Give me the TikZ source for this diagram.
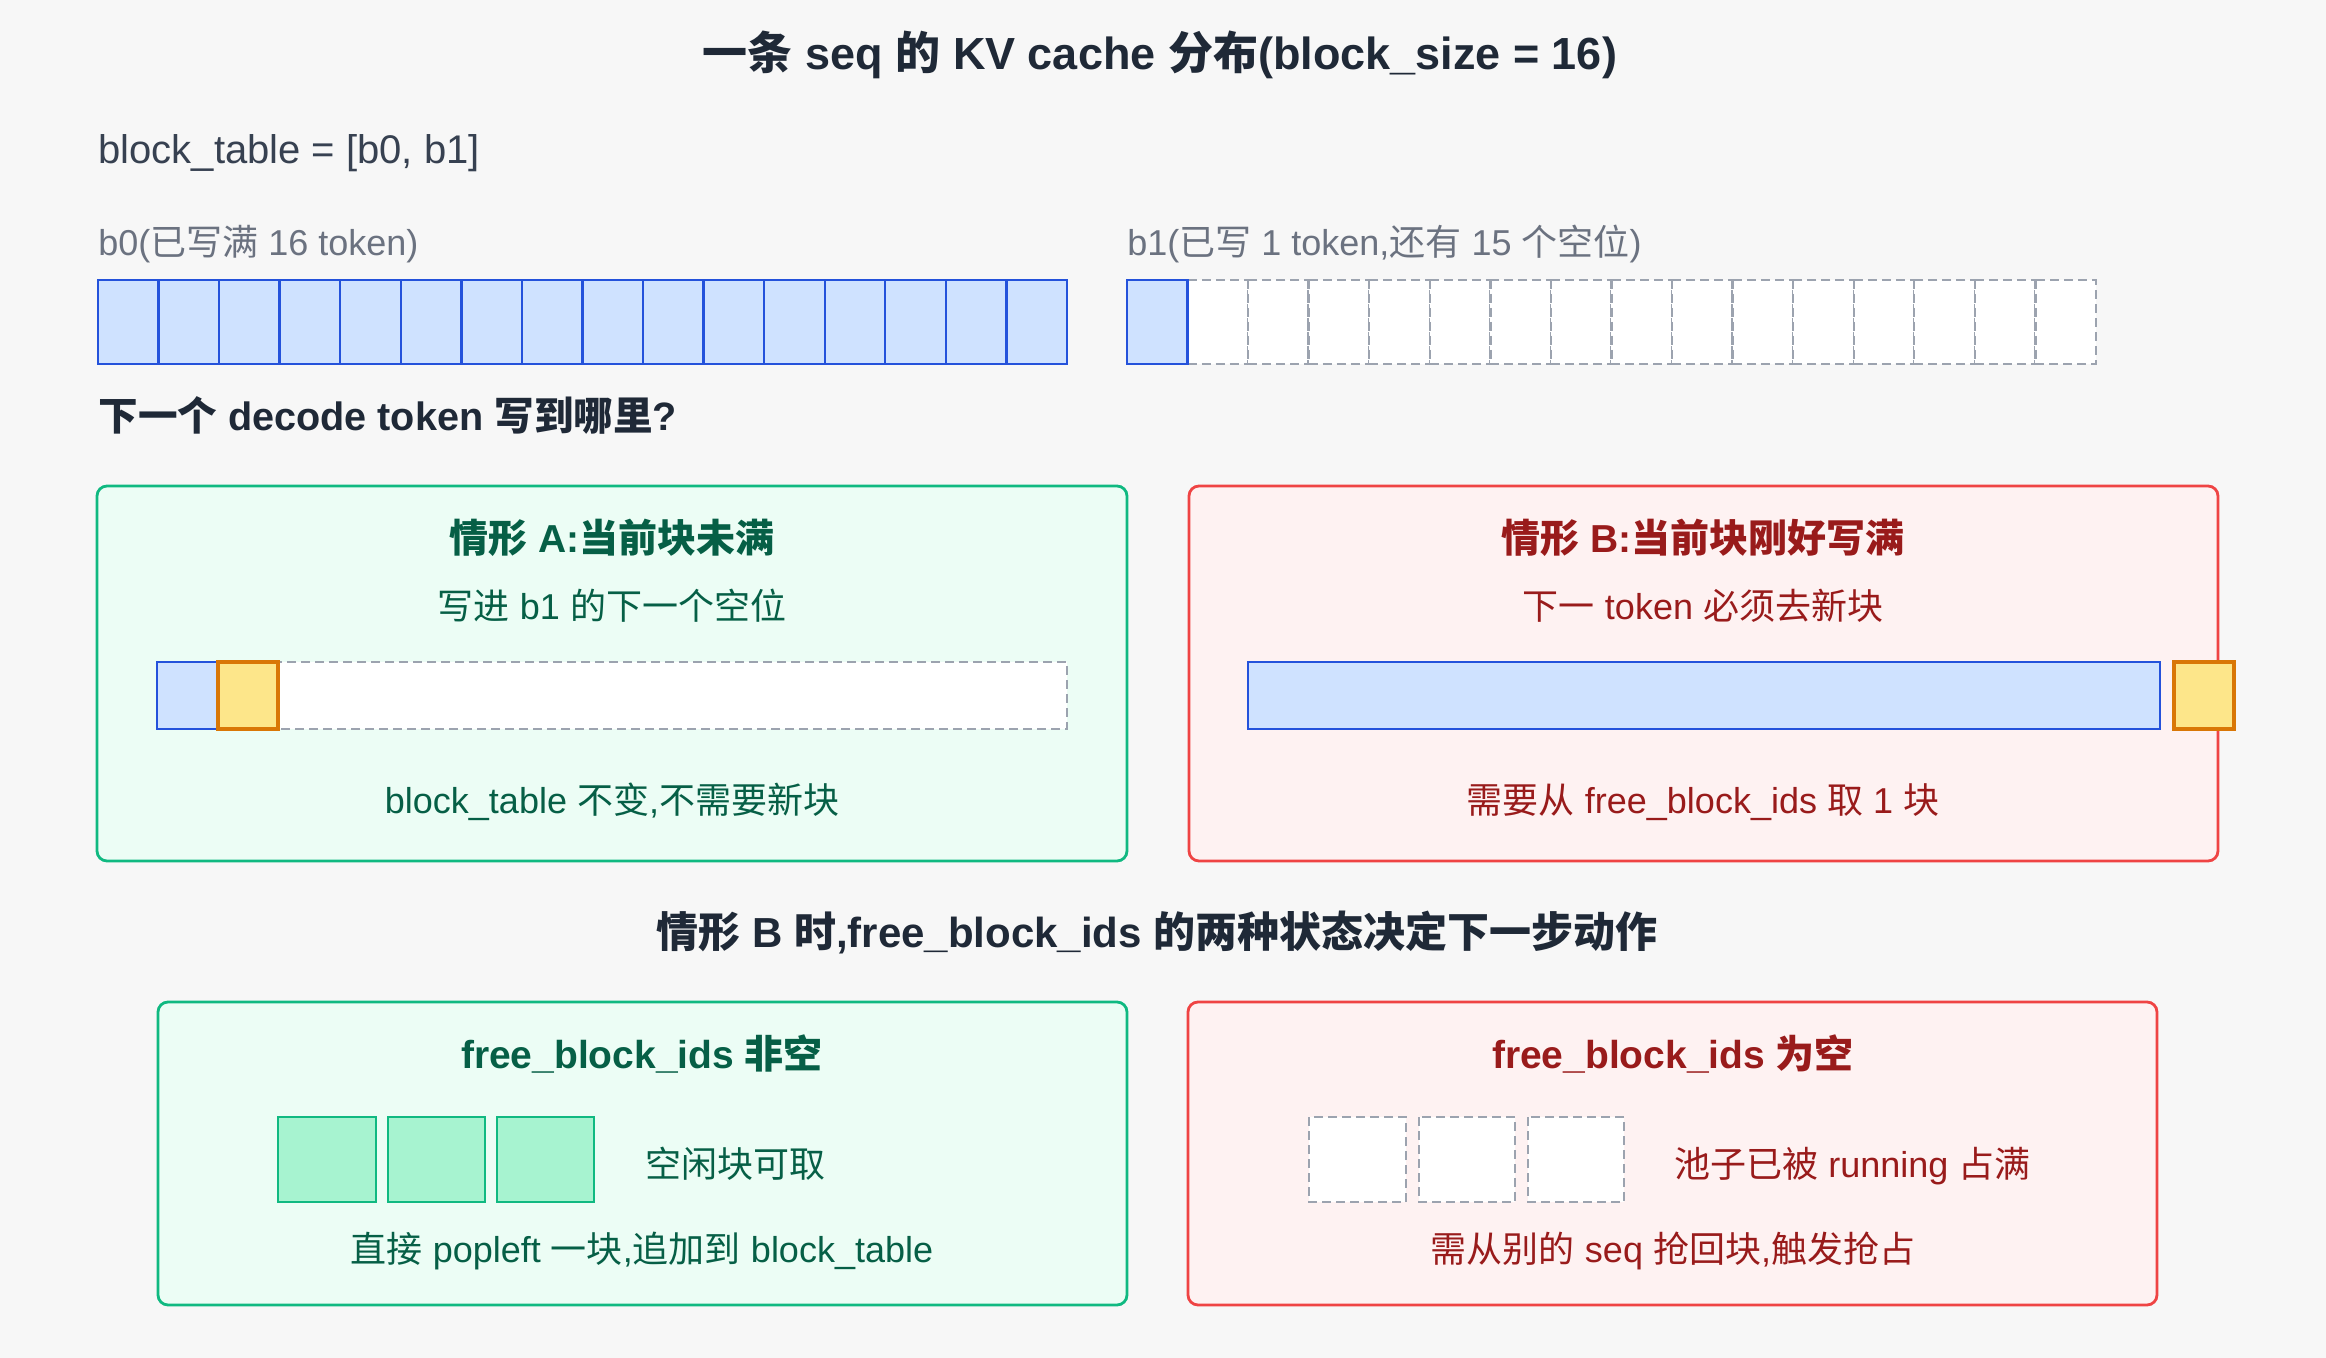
\documentclass[tikz,border=0pt]{standalone}
\usepackage{fontspec}
\setmainfont{Liberation Sans}
\newfontfamily\zhfont{Noto Sans CJK SC}
\usetikzlibrary{calc}

% CJK ideographs switch to the CJK family, everything else stays in the main family
\XeTeXinterchartokenstate=1
\newXeTeXintercharclass\zhclass
\newcount\zhcode
\zhcode="4E00
\loop
  \XeTeXcharclass\zhcode=\zhclass
  \advance\zhcode by 1
\ifnum\zhcode<"A000 \repeat
\XeTeXinterchartoks 0 \zhclass = {\zhfont}
\XeTeXinterchartoks 4095 \zhclass = {\zhfont}
\XeTeXinterchartoks \zhclass 0 = {\rmfamily}
\XeTeXinterchartoks \zhclass 4095 = {\rmfamily}

\definecolor{pagebg}{HTML}{F7F7F7}
\definecolor{ink}{HTML}{1F2937}
\definecolor{subink}{HTML}{374151}
\definecolor{labelgray}{HTML}{6B7280}
\definecolor{slotfill}{HTML}{CFE2FF}
\definecolor{slotline}{HTML}{2452DB}
\definecolor{dashgray}{HTML}{9CA3AF}
\definecolor{newfill}{HTML}{FDE68A}
\definecolor{newline}{HTML}{D97706}
\definecolor{okfill}{HTML}{ECFDF5}
\definecolor{okline}{HTML}{10B981}
\definecolor{okink}{HTML}{065F46}
\definecolor{freefill}{HTML}{A7F3D0}
\definecolor{badfill}{HTML}{FEF2F2}
\definecolor{badline}{HTML}{EF4444}
\definecolor{badink}{HTML}{991B1B}

\tikzset{
  slotfull/.style={fill=slotfill, draw=slotline, line width=1.2pt},
  slotempty/.style={fill=white, draw=dashgray, line width=1.2pt, dash pattern=on 4.5pt off 2.5pt},
  slotnew/.style={fill=newfill, draw=newline, line width=2pt},
  slotfree/.style={fill=freefill, draw=okline, line width=1.4pt},
  okbox/.style={fill=okfill, draw=okline, line width=1.4pt, rounded corners=5pt},
  badbox/.style={fill=badfill, draw=badline, line width=1.4pt, rounded corners=5pt},
  heading/.style={inner sep=0pt, anchor=base, text=ink, font=\bfseries\fontsize{21}{26}\selectfont},
  plain/.style={inner sep=0pt, anchor=base west, text=subink, font=\fontsize{20}{24}\selectfont},
  graylabel/.style={inner sep=0pt, anchor=base west, text=labelgray, font=\fontsize{18}{22}\selectfont},
  question/.style={inner sep=0pt, anchor=base west, text=ink, font=\bfseries\fontsize{19.8}{24}\selectfont},
  oktitle/.style={inner sep=0pt, anchor=base, text=okink, font=\bfseries\fontsize{19.5}{24}\selectfont},
  oktext/.style={inner sep=0pt, anchor=base, text=okink, font=\fontsize{18}{22}\selectfont},
  badtitle/.style={inner sep=0pt, anchor=base, text=badink, font=\bfseries\fontsize{19.5}{24}\selectfont},
  badtext/.style={inner sep=0pt, anchor=base, text=badink, font=\fontsize{18}{22}\selectfont}
}

\begin{document}
\begin{tikzpicture}[x=0.5pt,y=-0.5pt]
  \fill[pagebg] (0,0) rectangle (2326,1358);
  \useasboundingbox (0,0) rectangle (2326,1358);

  % the sequence and its two blocks
  \node[heading, font=\bfseries\fontsize{22.5}{26}\selectfont] (title) at (1160,70) {一条 seq 的 KV cache 分布(block\_size = 16)};
  \node[plain] (table) at (98,164) {block\_table = [b0, b1]};
  \node[graylabel] (b0lab) at (98,256) {b0(已写满 16 token)};
  \node[graylabel] (b1lab) at (1127,256) {b1(已写 1 token,还有 15 个空位)};

  \foreach \i in {0,...,15}
    \draw[slotfull] (98+60.56*\i,280) rectangle ++(60.56,84);
  \foreach \i in {1,...,15}
    \draw[slotempty] (1127+60.56*\i,280) rectangle ++(60.56,84);
  \draw[slotfull] (1127,280) rectangle ++(60.56,84);

  \node[question] (ask) at (98,431) {下一个 decode token 写到哪里?};

  % case A
  \draw[okbox] (97,486) rectangle (1127,861);
  \node[oktitle] (caseA) at (612,553) {情形 A:当前块未满};
  \node[oktext] (caseAsub) at (612,620) {写进 b1 的下一个空位};
  \draw[slotempty] (278,662) rectangle (1067,729);
  \draw[slotfull] (157,662) rectangle (218,729);
  \draw[slotnew] (218,662) rectangle (278,729);
  \node[oktext] (caseAnote) at (612,813) {block\_table 不变,不需要新块};

  % case B
  \draw[badbox] (1189,486) rectangle (2218,861);
  \node[badtitle] (caseB) at (1703,553) {情形 B:当前块刚好写满};
  \node[badtext] (caseBsub) at (1703,620) {下一 token 必须去新块};
  \draw[slotfull] (1248,662) rectangle (2160,729);
  \draw[slotnew] (2174,662) rectangle (2234,729);
  \node[badtext] (caseBnote) at (1703,813) {需要从 free\_block\_ids 取 1 块};

  \node[heading] (split) at (1157,947) {情形 B 时,free\_block\_ids 的两种状态决定下一步动作};

  % free list not empty
  \draw[okbox] (158,1002) rectangle (1127,1305);
  \node[oktitle] (hasfree) at (642,1068) {free\_block\_ids 非空};
  \draw[slotfree] (278,1117) rectangle (376,1202);
  \draw[slotfree] (388,1117) rectangle (485,1202);
  \draw[slotfree] (497,1117) rectangle (594,1202);
  \node[oktext, anchor=base west] (freelab) at (645,1177) {空闲块可取};
  \node[oktext] (hasfreenote) at (642,1262) {直接 popleft 一块,追加到 block\_table};

  % free list empty
  \draw[badbox] (1188,1002) rectangle (2157,1305);
  \node[badtitle] (nofree) at (1673,1068) {free\_block\_ids 为空};
  \draw[slotempty] (1309,1117) rectangle (1406,1202);
  \draw[slotempty] (1419,1117) rectangle (1515,1202);
  \draw[slotempty] (1528,1117) rectangle (1624,1202);
  \node[badtext, anchor=base west] (fulllab) at (1674,1177) {池子已被 running 占满};
  \node[badtext] (nofreenote) at (1673,1262) {需从别的 seq 抢回块,触发抢占};
\end{tikzpicture}
\end{document}
